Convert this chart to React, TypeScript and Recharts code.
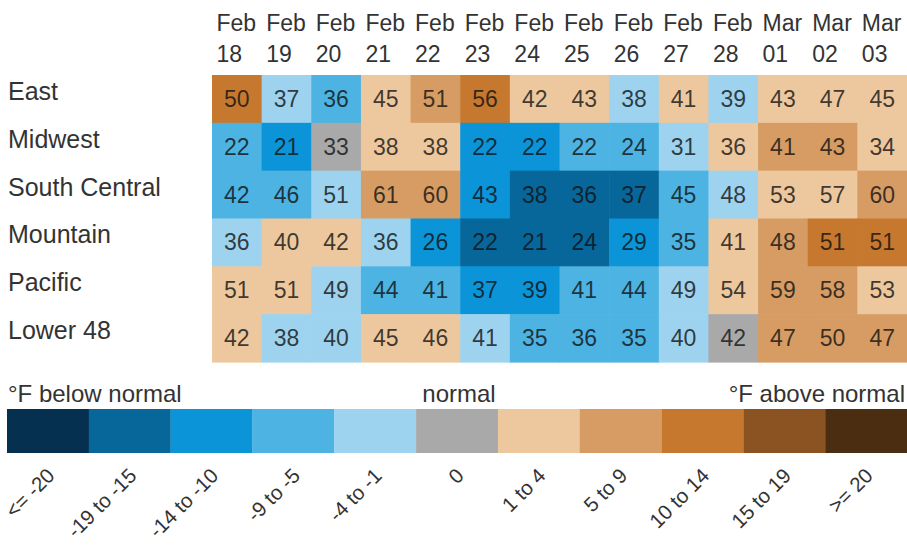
import React from 'react';
import { ScatterChart, Scatter, XAxis, YAxis, BarChart, Bar, Cell } from 'recharts';

const dates = [
  'Feb 18', 'Feb 19', 'Feb 20', 'Feb 21', 'Feb 22', 'Feb 23', 'Feb 24',
  'Feb 25', 'Feb 26', 'Feb 27', 'Feb 28', 'Mar 01', 'Mar 02', 'Mar 03',
];
const regions = ['East', 'Midwest', 'South Central', 'Mountain', 'Pacific', 'Lower 48'];

// temperatures (°F)
const eastTemps = [50, 37, 36, 45, 51, 56, 42, 43, 38, 41, 39, 43, 47, 45];
const midwestTemps = [22, 21, 33, 38, 38, 22, 22, 22, 24, 31, 36, 41, 43, 34];
const southCentralTemps = [42, 46, 51, 61, 60, 43, 38, 36, 37, 45, 48, 53, 57, 60];
const mountainTemps = [36, 40, 42, 36, 26, 22, 21, 24, 29, 35, 41, 48, 51, 51];
const pacificTemps = [51, 51, 49, 44, 41, 37, 39, 41, 44, 49, 54, 59, 58, 53];
const lower48Temps = [42, 38, 40, 45, 46, 41, 35, 36, 35, 40, 42, 47, 50, 47];

// deviation-from-normal bin (index into bins)
const eastBins = [8, 4, 3, 6, 7, 8, 6, 6, 4, 6, 4, 6, 6, 6];
const midwestBins = [3, 2, 5, 6, 6, 2, 2, 3, 3, 4, 6, 7, 7, 6];
const southCentralBins = [3, 3, 4, 7, 7, 2, 1, 1, 1, 3, 4, 6, 6, 7];
const mountainBins = [4, 6, 6, 4, 2, 1, 1, 1, 2, 3, 6, 7, 8, 8];
const pacificBins = [6, 6, 4, 3, 3, 2, 2, 3, 3, 4, 6, 7, 7, 6];
const lower48Bins = [6, 4, 4, 6, 6, 4, 3, 3, 3, 4, 5, 7, 7, 7];

const bins = [
  '<= -20', '-19 to -15', '-14 to -10', '-9 to -5', '-4 to -1', '0',
  '1 to 4', '5 to 9', '10 to 14', '15 to 19', '>= 20',
];
const binColors = [
  '#05304f', '#07679a', '#0b95d8', '#4cb3e2', '#9dd3ef', '#a9a9a9',
  '#edc89e', '#d69c63', '#c6782f', '#8b5322', '#4b2e12',
];

const tempRows = [eastTemps, midwestTemps, southCentralTemps, mountainTemps, pacificTemps, lower48Temps];
const binRows = [eastBins, midwestBins, southCentralBins, mountainBins, pacificBins, lower48Bins];

const cells = tempRows.flatMap((temps, row) =>
  temps.map((temp, col) => ({ col, row, temp, bin: binRows[row][col] }))
);
const legendData = bins.map((name) => ({ name, value: 1 }));

const FONT = '"Liberation Sans", Arial, sans-serif';
const W = 907;
const LEFT = 212;
const GRID_TOP = 75;
const GRID_BOTTOM = 362;
const COL_W = (W - LEFT) / dates.length;
const ROW_H = (GRID_BOTTOM - GRID_TOP) / regions.length;

const DateTick = (props: any) => {
  const { x, payload } = props;
  const [mon, day] = dates[payload.value].split(' ');
  const tx = x - COL_W / 2 + 4.5;
  return (
    <text fontSize={23} fill="#333" textAnchor="start">
      <tspan x={tx} y={31}>{mon}</tspan>
      <tspan x={tx} y={62}>{day}</tspan>
    </text>
  );
};

const RegionTick = (props: any) => {
  const { y, payload } = props;
  return (
    <text x={8} y={y + 1} fontSize={25} fill="#333" textAnchor="start">
      {regions[payload.value]}
    </text>
  );
};

const renderCell = (props: any) => {
  const { cx, cy, payload } = props;
  return (
    <g>
      <rect
        x={cx - COL_W / 2}
        y={cy - ROW_H / 2}
        width={COL_W + 0.6}
        height={ROW_H + 0.6}
        fill={binColors[payload.bin]}
      />
      <text
        x={cx}
        y={cy}
        dy={8}
        textAnchor="middle"
        fontSize={23}
        fill="#111"
        fillOpacity={0.8}
      >
        {payload.temp}
      </text>
    </g>
  );
};

const BinTick = (props: any) => {
  const { x, y, payload } = props;
  const ex = x + 8;
  const ey = y + 24;
  return (
    <text
      x={ex}
      y={ey}
      transform={`rotate(-45, ${ex}, ${ey})`}
      textAnchor="end"
      fontSize={20.5}
      fill="#333"
    >
      {payload.value}
    </text>
  );
};

export default function App() {
  return (
    <div
      style={{
        position: 'absolute',
        left: 0,
        top: 0,
        width: W,
        height: 549,
        background: '#fff',
        fontFamily: FONT,
      }}
    >
      <ScatterChart width={W} height={370} margin={{ top: 5, right: 0, bottom: 370 - GRID_BOTTOM, left: 0 }}>
        <XAxis
          type="number"
          dataKey="col"
          domain={[-0.5, dates.length - 0.5]}
          ticks={dates.map((_, i) => i)}
          interval={0}
          orientation="top"
          height={GRID_TOP - 5}
          axisLine={false}
          tickLine={false}
          tick={<DateTick />}
        />
        <YAxis
          type="number"
          dataKey="row"
          domain={[-0.5, regions.length - 0.5]}
          ticks={regions.map((_, i) => i)}
          interval={0}
          reversed
          width={LEFT}
          axisLine={false}
          tickLine={false}
          tick={<RegionTick />}
        />
        <Scatter data={cells} shape={renderCell} isAnimationActive={false} />
      </ScatterChart>

      <div style={{ position: 'absolute', left: 8, top: 380, fontSize: 24, color: '#333' }}>°F below normal</div>
      <div style={{ position: 'absolute', left: 418, width: 82, top: 380, fontSize: 24, color: '#333', textAlign: 'center' }}>
        normal
      </div>
      <div style={{ position: 'absolute', right: 2, top: 380, fontSize: 24, color: '#333' }}>°F above normal</div>

      <div style={{ position: 'absolute', left: 0, top: 380 }}>
        <BarChart
          width={W}
          height={169}
          data={legendData}
          barCategoryGap={0}
          barGap={0}
          margin={{ top: 29, right: 0, bottom: 0, left: 7 }}
        >
          <XAxis
            dataKey="name"
            interval={0}
            height={96}
            axisLine={false}
            tickLine={false}
            tickSize={0}
            tickMargin={0}
            tick={<BinTick />}
          />
          <YAxis hide domain={[0, 1]} />
          <Bar dataKey="value" isAnimationActive={false}>
            {legendData.map((d, i) => (
              <Cell key={d.name} fill={binColors[i]} />
            ))}
          </Bar>
        </BarChart>
      </div>
    </div>
  );
}
